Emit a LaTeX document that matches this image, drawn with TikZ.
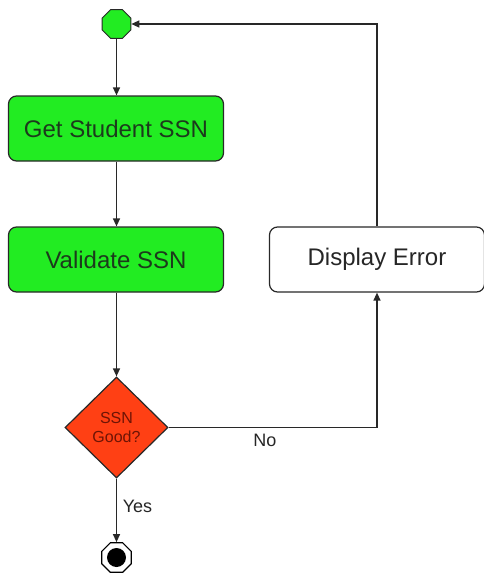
\documentclass[tikz,border=0pt]{standalone}
\usepackage{fontspec}
\setmainfont{Liberation Sans}
\usetikzlibrary{shapes.geometric,arrows.meta}

\definecolor{actgreen}{RGB}{34,236,34}
\definecolor{actgreentext}{RGB}{28,58,28}
\definecolor{decred}{RGB}{255,64,20}
\definecolor{decredtext}{RGB}{110,20,5}
\definecolor{edgegray}{RGB}{40,40,40}

\tikzset{
  flow/.style={draw=edgegray, line width=1.3pt,
    -{Triangle[length=8pt,width=7pt]}},
  action/.style={draw=edgegray, line width=1.2pt, rounded corners=8pt,
    minimum width=215pt, minimum height=65pt, inner sep=0pt,
    font=\fontsize{24}{28}\selectfont},
  greenaction/.style={action, fill=actgreen, text=actgreentext},
  whiteaction/.style={action, fill=white, text=black!85},
  decision/.style={diamond, draw=edgegray, line width=1.2pt, fill=decred,
    text=decredtext, minimum width=103pt, minimum height=101pt,
    inner sep=0pt, align=center,
    font=\fontsize{16}{20}\selectfont},
  startstate/.style={regular polygon, regular polygon sides=8,
    draw=edgegray, line width=1pt, fill=actgreen,
    minimum size=31pt, inner sep=0pt},
  endstate/.style={regular polygon, regular polygon sides=8,
    draw=black, line width=1.2pt, fill=white,
    minimum size=32pt, inner sep=0pt},
  edgelabel/.style={font=\fontsize{18}{20}\selectfont, text=black!85}
}

\begin{document}
\begin{tikzpicture}[x=1pt, y=-1pt]
  \useasboundingbox (0,0) rectangle (484,574);

  % states and activities, all on one vertical axis
  \node[startstate] (start) at (116.5,24) {};
  \node[greenaction] (get) at (116,128.5) {Get Student SSN};
  \node[greenaction] (validate) at (116,259.5) {Validate SSN};
  \node[decision] (good) at (116.5,427.5) {SSN\\[-1pt]Good?};
  \node[whiteaction] (error) at (377,259.5) {Display Error};
  \node[endstate] (stop) at (116.5,557.5) {};
  \fill[black] (stop.center) circle (9.5pt);

  % corner points of the loop-back path
  \coordinate (errtop) at (error.north |- start.east);
  \coordinate (nocorner) at (error.south |- good.east);

  % transitions
  \draw[flow] (start.south) -- (start.south |- get.north);
  \draw[flow] (get.south -| start.south) -- (validate.north -| start.south);
  \draw[flow] (validate.south -| start.south) -- (good.north);
  \draw[flow] (good.south) -- (stop.north);
  \draw[flow] (good.east) -- (nocorner) -- (error.south);
  \draw[flow] (error.north) -- (errtop) -- (start.east);

  % guard labels
  \node[edgelabel] (nolabel) at (265,440) {No};
  \node[edgelabel] (yeslabel) at (137.5,506.5) {Yes};
\end{tikzpicture}
\end{document}
